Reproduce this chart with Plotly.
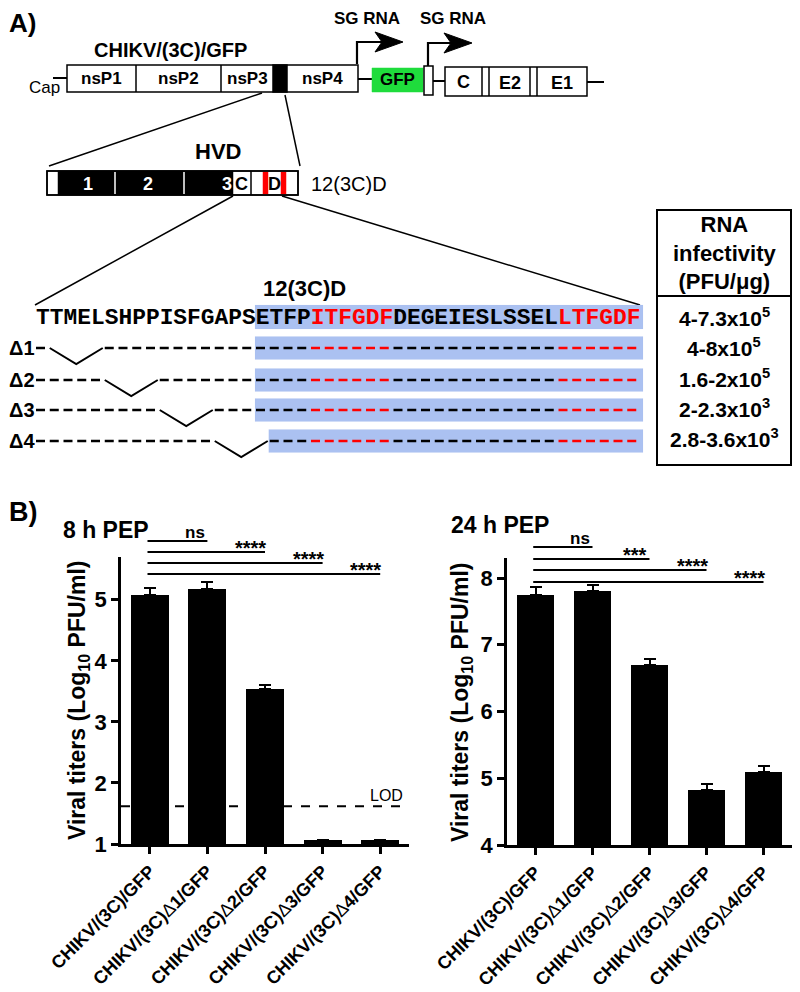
import plotly.graph_objects as go

# page body has an 8px margin: draw on a 784x976 figure offset by 8px
OFF = 8
W, H = 800 - 2 * OFF, 992 - 2 * OFF

# ---------------- data ----------------
categories = ["CHIKV/(3C)/GFP", "CHIKV/(3C)Δ1/GFP", "CHIKV/(3C)Δ2/GFP",
              "CHIKV/(3C)Δ3/GFP", "CHIKV/(3C)Δ4/GFP"]
titers_8h = [5.08, 5.17, 3.54, 1.07, 1.06]
err_8h = [0.12, 0.12, 0.07, 0.0, 0.0]
titers_24h = [7.74, 7.81, 6.70, 4.82, 5.09]
err_24h = [0.12, 0.08, 0.08, 0.09, 0.10]
lod_8h = 1.62
sig_8h = ["ns", "****", "****", "****"]
sig_24h = ["ns", "***", "****", "****"]
yticks_8h = [1, 2, 3, 4, 5]
yticks_24h = [4, 5, 6, 7, 8]

seq_segments = [("TTMELSHPPISFGAPS", "black"), ("ETFP", "black"), ("ITFGDF", "red"),
                ("DEGEIESLSSEL", "black"), ("LTFGDF", "red")]
row_labels = ["Δ1", "Δ2", "Δ3", "Δ4"]
deletions = [(1, 4), (5, 8), (9, 12), (13, 16)]
infectivity = ["4-7.3x10<sup>5</sup>", "4-8x10<sup>5</sup>", "1.6-2x10<sup>5</sup>",
               "2-2.3x10<sup>3</sup>", "2.8-3.6x10<sup>3</sup>"]
table_header = "RNA<br>infectivity<br>(PFU/μg)"

FONT = "Arial, Liberation Sans, sans-serif"
MONO = "Liberation Mono, Courier New, monospace"


def px(x):
    return (x - OFF) / W


def py(y):
    return 1 - (y - OFF) / H


shapes = []
annotations = []


def rect(x0, y0, x1, y1, fill="white", line="black", lw=1.5):
    shapes.append(dict(type="rect", xref="paper", yref="paper",
                       x0=px(x0), x1=px(x1), y0=py(y1), y1=py(y0),
                       fillcolor=fill, line=dict(color=line, width=lw)))


def seg(x0, y0, x1, y1, color="black", lw=1.5, dash=None):
    d = dict(color=color, width=lw)
    if dash:
        d["dash"] = dash
    shapes.append(dict(type="line", xref="paper", yref="paper",
                       x0=px(x0), x1=px(x1), y0=py(y0), y1=py(y1), line=d))


def path(points, close=False, fill=None, color="black", lw=1.5):
    p = "M " + " L ".join(f"{px(x):.5f},{py(y):.5f}" for x, y in points)
    if close:
        p += " Z"
    shapes.append(dict(type="path", xref="paper", yref="paper", path=p,
                       fillcolor=fill if fill else "rgba(0,0,0,0)",
                       line=dict(color=color, width=lw)))


def multipath(segments, color, lw):
    p = " ".join(f"M {px(a):.5f},{py(b):.5f} L {px(c):.5f},{py(d):.5f}" for a, b, c, d in segments)
    shapes.append(dict(type="path", xref="paper", yref="paper", path=p,
                       line=dict(color=color, width=lw)))


def text(x, y, s, size, bold=False, color="black", xanchor="center",
         yanchor="middle", family=FONT, angle=0, align="center"):
    annotations.append(dict(x=px(x), y=py(y), xref="paper", yref="paper", text=s,
                            showarrow=False, xanchor=xanchor, yanchor=yanchor,
                            textangle=angle, align=align,
                            font=dict(family=family, size=size, color=color,
                                      weight="bold" if bold else "normal"),
                            borderpad=0))


# ---------------- Panel A ----------------
text(8, 23, "A)", 26, bold=True, xanchor="left")
text(170, 50, "CHIKV/(3C)/GFP", 20, bold=True)
# genome
seg(53, 78, 67, 78, lw=2)
text(44, 88, "Cap", 17)
rect(67, 65, 358, 92)
seg(136, 65, 136, 92)
seg(221, 65, 221, 92)
rect(273, 65, 287, 92, fill="black")
for lab, cx in [("nsP1", 101), ("nsP2", 178), ("nsP3", 247), ("nsP4", 322)]:
    text(cx, 79, lab, 17, bold=True)
seg(358, 79, 372, 79, lw=2)
rect(372, 68, 423, 92, fill="#1fdc3c", line="#1fdc3c", lw=0.5)
text(397, 80, "GFP", 17, bold=True)
rect(424, 66, 433, 95)
seg(433, 81, 445, 81, lw=2)
rect(445, 67, 587, 96)
for xx in (482, 489, 530, 537):
    seg(xx, 67, xx, 96)
text(463, 82, "C", 18, bold=True)
text(510, 83, "E2", 18, bold=True)
text(562, 83, "E1", 18, bold=True)
seg(587, 82, 604, 82, lw=2)
# subgenomic promoters
path([(357, 64), (357, 42), (384, 42)], lw=2.2)
path([(375, 32), (403, 42), (375, 52), (382, 42)], close=True, fill="black", lw=1)
text(367, 19, "SG RNA", 17, bold=True)
path([(428, 66), (428, 43), (452, 43)], lw=2.2)
path([(444, 33), (472, 43), (444, 53), (451, 43)], close=True, fill="black", lw=1)
text(453, 19, "SG RNA", 17, bold=True)
# zoom lines to HVD
seg(262, 93, 49, 166, lw=1.5)
seg(285, 95, 300, 166, lw=1.5)
text(218, 152, "HVD", 22, bold=True)
# HVD bar
rect(47, 171, 298, 195)
rect(58, 171, 233, 195, fill="black", lw=0.5)
seg(115, 172, 115, 194, color="white", lw=1.5)
seg(184, 172, 184, 194, color="white", lw=1.5)
seg(251, 171, 251, 195)
rect(263, 172, 268, 194, fill="red", line="red", lw=0.5)
rect(281, 172, 286, 194, fill="red", line="red", lw=0.5)
shapes.append(dict(type="rect", xref="paper", yref="paper", x0=px(47), x1=px(298),
                   y0=py(195), y1=py(171), line=dict(color="black", width=1.5)))
text(88, 184, "1", 18, bold=True, color="white")
text(148, 184, "2", 18, bold=True, color="white")
text(233, 184, "3", 18, bold=True, color="white", xanchor="right")
text(234, 184, "C", 18, bold=True, xanchor="left")
text(274, 184, "D", 18, bold=True)
text(310, 184, "12(3C)D", 20, xanchor="left")
# zoom lines to sequence
seg(233, 196, 35, 305, lw=1.5)
seg(282, 196, 640, 305, lw=1.5)
text(304, 288, "12(3C)D", 22, bold=True)

# sequence
CW = 13.75
X0 = 35
seq_full = "".join(s for s, _ in seq_segments)
colors = []
for s, c in seq_segments:
    colors += [c] * len(s)
n_chars = len(seq_full)
blue = "#abc1f1"
rect(X0 + CW * 16, 305, X0 + CW * n_chars + 3, 329, fill=blue, line=blue, lw=0.1)
seq_html = "".join(s if c == "black" else f"<span style='color:red'>{s}</span>"
                   for s, c in seq_segments)
text(X0, 318, seq_html, 22.9, bold=True, family=MONO, xanchor="left")

row_y = [348, 380, 410, 441]
for (lab, (d0, d1), ry) in zip(row_labels, deletions, row_y):
    start_blue = max(16, d1 + 1)
    rect(X0 + CW * start_blue, ry - 11.5, X0 + CW * n_chars + 3, ry + 11.5,
         fill=blue, line=blue, lw=0.1)
    blk, red = [], []
    for i in range(n_chars):
        if d0 <= i <= d1:
            continue
        a = X0 + CW * i + 1
        b = a + 9
        (red if colors[i] == "red" else blk).append((a, ry, b, ry))
    multipath(blk, "black", 2.3)
    multipath(red, "red", 2.3)
    xa = X0 + CW * d0 + 1
    xb = X0 + CW * (d1 + 1) - 1
    path([(xa, ry), ((xa + xb) / 2, ry + 16), (xb, ry)], lw=2)
    text(8, ry, lab, 20, bold=True, xanchor="left")

# table
rect(657, 210, 791, 465, fill="rgba(0,0,0,0)", lw=2)
seg(657, 296, 791, 296, lw=2)
text(724, 253, table_header, 22, bold=True)
for val, ry in zip(infectivity, [317, 347, 378, 408, 438]):
    text(724, ry, val, 21, bold=True)

# ---------------- Panel B ----------------
text(8, 512, "B)", 27, bold=True, xanchor="left")
text(106, 530, "8 h PEP", 23, bold=True)
text(500, 525, "24 h PEP", 23, bold=True)

ticktext = [c.replace("Δ", "<span style='font-weight:normal'>Δ</span>") for c in categories]

fig = go.Figure()
fig.add_trace(go.Bar(x=categories, y=titers_8h, width=0.66, marker=dict(color="black", line=dict(width=0)),
                     error_y=dict(type="data", array=err_8h, arrayminus=[0] * 5, symmetric=False,
                                  color="black", thickness=2, width=6),
                     xaxis="x", yaxis="y", showlegend=False))
fig.add_trace(go.Bar(x=categories, y=titers_24h, width=0.66, marker=dict(color="black", line=dict(width=0)),
                     error_y=dict(type="data", array=err_24h, arrayminus=[0] * 5, symmetric=False,
                                  color="black", thickness=2, width=6),
                     xaxis="x2", yaxis="y2", showlegend=False))

axis_common = dict(showline=True, linecolor="black", linewidth=2.5, ticks="outside",
                   ticklen=7, tickwidth=2.5, tickcolor="black", showgrid=False, zeroline=False,
                   automargin=False)
xcommon = dict(axis_common, type="category", tickangle=-45, tickvals=categories, ticktext=ticktext,
               tickfont=dict(family=FONT, size=18, color="black", weight="bold"),
               range=[-0.5, 4.5])

fig.update_layout(
    template="none",
    width=W, height=H, margin=dict(l=0, r=0, t=0, b=0, pad=0, autoexpand=False),
    paper_bgcolor="white", plot_bgcolor="white", showlegend=False, bargap=0,
    xaxis=dict(xcommon, domain=[px(121), px(409)], anchor="y"),
    yaxis=dict(axis_common, domain=[py(844), py(557)], range=[1, 5.7], tickvals=yticks_8h,
               tickfont=dict(family=FONT, size=22, color="black", weight="bold"), anchor="x"),
    xaxis2=dict(xcommon, domain=[px(507), px(792)], anchor="y2"),
    yaxis2=dict(axis_common, domain=[py(845), py(558)], range=[4, 8.3], tickvals=yticks_24h,
                tickfont=dict(family=FONT, size=22, color="black", weight="bold"), anchor="x2"),
)

ytitle = "Viral titers (Log<sub>10</sub> PFU/ml)"
text(78, 701, ytitle, 23, bold=True, angle=-90)
text(461, 702, ytitle, 23, bold=True, angle=-90)

# LOD line
shapes.append(dict(type="line", xref="x domain", yref="y", x0=0, x1=1, y0=lod_8h, y1=lod_8h,
                   line=dict(color="black", width=2, dash="9px,9px"), layer="below"))
text(386, 795, "LOD", 16)

# significance brackets
for (xr, levels, labels) in [("x", [541, 552, 563, 574], sig_8h),
                             ("x2", [547, 559, 570, 582], sig_24h)]:
    for i, (ly, lab) in enumerate(zip(levels, labels), start=1):
        shapes.append(dict(type="line", xref=xr, yref="paper", x0=-0.04, x1=i,
                           y0=py(ly), y1=py(ly), line=dict(color="black", width=2)))
        if lab == "ns":
            annotations.append(dict(x=i - 0.22, y=py(ly - 9), xref=xr, yref="paper", text=lab,
                                    showarrow=False, xanchor="center", yanchor="middle",
                                    font=dict(family=FONT, size=17, color="black", weight="bold")))
        else:
            annotations.append(dict(x=i - 0.25, y=py(ly - 4), xref=xr, yref="paper", text=lab,
                                    showarrow=False, xanchor="center", yanchor="middle",
                                    font=dict(family=FONT, size=20, color="black", weight="bold")))

fig.update_layout(shapes=shapes, annotations=annotations)
fig.write_html("out.html")
